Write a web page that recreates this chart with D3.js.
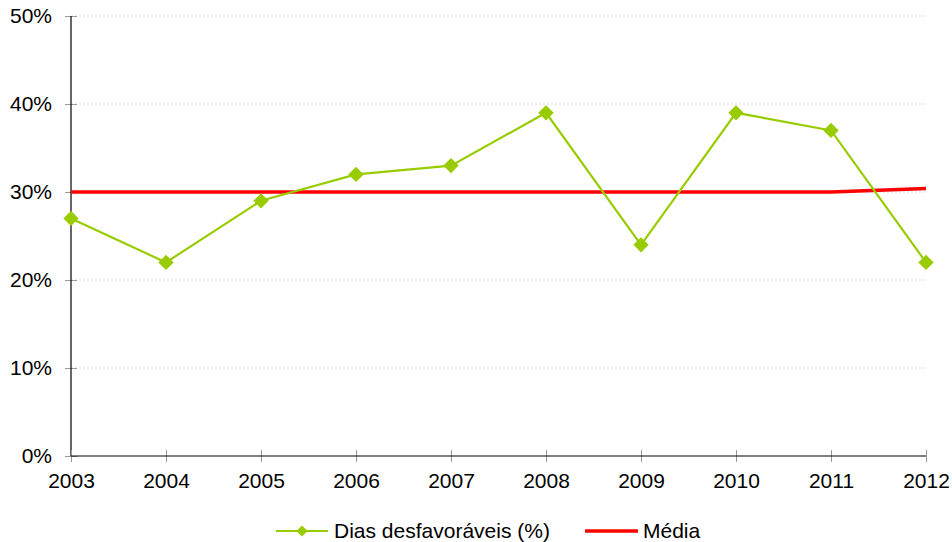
<!DOCTYPE html>
<html>
<head>
<meta charset="utf-8">
<script src="https://cdn.jsdelivr.net/npm/d3@7"></script>
<style>
  html, body { margin: 0; padding: 0; background: #fff; }
  svg { display: block; font-family: "Liberation Sans", Arial, sans-serif; }
</style>
</head>
<body>
<svg id="chart" width="952" height="542"></svg>
<script>
// Anos e séries
const years = ["2003", "2004", "2005", "2006", "2007", "2008", "2009", "2010", "2011", "2012"];
const diasDesfavoraveis = [27, 22, 29, 32, 33, 39, 24, 39, 37, 22];
const media = [30, 30, 30, 30, 30, 30, 30, 30, 30, 30.4];
const yTicks = [0, 10, 20, 30, 40, 50];
const seriesNames = ["Dias desfavoráveis (%)", "Média"];

const svg = d3.select("#chart");
const margin = { left: 71, right: 26, top: 16, bottom: 86 };
const W = 952, H = 542;
const fontSize = 21;

const x = d3.scalePoint().domain(years).range([margin.left, W - margin.right]);
const y = d3.scaleLinear().domain([0, 50]).range([H - margin.bottom, margin.top]);

// Linhas de grade
svg.append("g")
  .selectAll("line")
  .data(yTicks.filter(d => d > 0))
  .join("line")
  .attr("x1", margin.left).attr("x2", W - margin.right)
  .attr("y1", d => y(d)).attr("y2", d => y(d))
  .attr("stroke", "#d9d9d9")
  .attr("stroke-width", 1)
  .attr("stroke-dasharray", "2,2");

// Eixo Y
const yAxis = svg.append("g")
  .attr("transform", `translate(${margin.left},0)`)
  .call(d3.axisLeft(y).tickValues(yTicks).tickFormat(d => d + "%").tickSize(6).tickPadding(13));
yAxis.select(".domain").remove();
yAxis.selectAll(".tick line").attr("stroke", "#999").attr("x2", 6).attr("x1", -6);
yAxis.selectAll(".tick text").attr("font-size", fontSize).attr("fill", "#000")
  .attr("font-family", "Liberation Sans, Arial, sans-serif");
svg.append("line")
  .attr("x1", margin.left).attr("x2", margin.left)
  .attr("y1", y(0)).attr("y2", y(50))
  .attr("stroke", "#000").attr("stroke-width", 1.2);

// Eixo X
const xAxis = svg.append("g")
  .attr("transform", `translate(0,${y(0)})`)
  .call(d3.axisBottom(x).tickSize(6));
xAxis.select(".domain").remove();
xAxis.selectAll(".tick line").attr("stroke", "#999").attr("y1", -6).attr("y2", 6);
xAxis.selectAll(".tick text").attr("font-size", fontSize).attr("fill", "#000")
  .attr("y", 32).attr("dy", 0)
  .attr("font-family", "Liberation Sans, Arial, sans-serif");
svg.append("line")
  .attr("x1", margin.left).attr("x2", W - margin.right)
  .attr("y1", y(0)).attr("y2", y(0))
  .attr("stroke", "#000").attr("stroke-width", 1.2);

const green = "#99cc00";
const red = "#ff0000";
const diamond = d3.symbol().type(d3.symbolDiamond2).size(150);

// Média
const lineGen = d3.line().x((d, i) => x(years[i])).y(d => y(d));
svg.append("path")
  .datum(media)
  .attr("d", lineGen)
  .attr("fill", "none")
  .attr("stroke", red)
  .attr("stroke-width", 3.5);

// Dias desfavoráveis
svg.append("path")
  .datum(diasDesfavoraveis)
  .attr("d", lineGen)
  .attr("fill", "none")
  .attr("stroke", green)
  .attr("stroke-width", 2.2);

svg.append("g")
  .selectAll("path")
  .data(diasDesfavoraveis)
  .join("path")
  .attr("transform", (d, i) => `translate(${x(years[i])},${y(d)})`)
  .attr("d", diamond)
  .attr("fill", green);

// Legenda
const legY = 531;
const leg = svg.append("g");
leg.append("line").attr("x1", 276).attr("x2", 328).attr("y1", legY).attr("y2", legY)
  .attr("stroke", green).attr("stroke-width", 2.2);
leg.append("path").attr("transform", `translate(302,${legY})`)
  .attr("d", d3.symbol().type(d3.symbolDiamond2).size(80)).attr("fill", green);
leg.append("text").attr("x", 334).attr("y", legY).attr("dy", "0.35em")
  .attr("font-size", fontSize).text(seriesNames[0]);
leg.append("line").attr("x1", 585).attr("x2", 638).attr("y1", legY).attr("y2", legY)
  .attr("stroke", red).attr("stroke-width", 3.5);
leg.append("text").attr("x", 643).attr("y", legY).attr("dy", "0.35em")
  .attr("font-size", fontSize).text(seriesNames[1]);
</script>
</body>
</html>
